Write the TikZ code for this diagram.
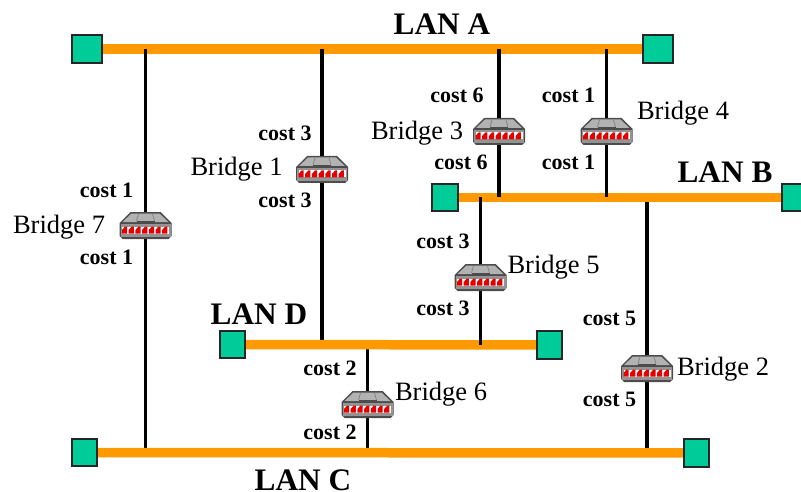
\documentclass[tikz,border=0pt]{standalone}
\usepackage{fontspec}
\setmainfont{Liberation Serif}
\usetikzlibrary{positioning,calc}

\definecolor{lanorange}{RGB}{255,153,0}
\definecolor{langreen}{RGB}{0,204,153}

\begin{document}
\begin{tikzpicture}[
  x=1pt, y=-1pt,
  endpt/.style={draw=black!85, line width=1.6pt, fill=langreen, minimum width=25.5pt, minimum height=27.5pt, inner sep=0pt},
  endptw/.style={endpt, minimum width=29.5pt},
  lan/.style={draw=lanorange, line width=9.5pt},
  link/.style={draw=black, line width=3.8pt},
  bridge/.style={minimum width=53pt, minimum height=27pt, inner sep=0pt},
  lanlbl/.style={font=\fontsize{31.3}{32}\selectfont\bfseries, inner sep=0pt},
  brlbl/.style={font=\fontsize{26.5}{28}\selectfont, inner sep=0pt},
  costlbl/.style={font=\fontsize{22}{24}\selectfont\bfseries, inner sep=0pt},
  router/.pic={
    \fill[black!70] (-15,-14) -- (15,-14) -- (26,-3) -- (26,10) -- (23,13) -- (-23,13) -- (-26,10) -- (-26,-3) -- cycle;
    \fill[black!30] (-14,-12.5) -- (14,-12.5) -- (23,-4) -- (-23,-4) -- cycle;
    \draw[black!50, line width=0.7pt] (-7,-12) -- (-9,-5) (7,-12) -- (9,-5);
    \fill[black!70] (-9,-5) rectangle (9,-3);
    \fill[black!42] (-25,-2) rectangle (25,11);
    \fill[white] (-23.5,0.5) rectangle (23.5,7.5);
    \foreach \i in {0,...,6}
      \fill[red!90!black] ({-23.5+6.7*\i},7.5) -- ({-23.5+6.7*\i},4) -- ({-23.5+6.7*\i+3},0.5) -- ({-23.5+6.7*\i+5.2},0.5) -- ({-23.5+6.7*\i+5.2},7.5) -- cycle;
  },
]
\useasboundingbox (0,0) rectangle (801,492);

%% ---------- bridges ----------
\node[bridge] (br1) at (322,170) {};
\node[bridge] (br2) at (647,369) {};
\node[bridge] (br3) at (499,132) {};
\node[bridge] (br4) at (606.5,132) {};
\node[bridge] (br5) at (480.5,278) {};
\node[bridge] (br6) at (367.5,405) {};
\node[bridge] (br7) at (145.5,226) {};

%% ---------- LANs ----------
\node[endptw] (a1) at (87,49) {};
\node[endptw] (a2) at (658,49) {};
\node[endpt] (b1) at (445,197.5) {};
\node[endpt] (b2) at (795,197.5) {};
\node[endpt] (d1) at (232.5,344.5) {};
\node[endpt] (d2) at (549.5,345) {};
\node[endpt] (c1) at (84.5,452.5) {};
\node[endpt] (c2) at (696.5,453) {};

\draw[lan] (a1) -- (a2);
\draw[link] (b1 -| br2) -- (c1 -| br2);
\draw[lan] (b1) -- (b2);

%% ---------- links ----------
\draw[link] (a1 -| br7) -- (c1 -| br7);
\draw[link] (a1 -| br1) -- (d1 -| br1);
\draw[link] (a1 -| br3) -- (b1 -| br3);
\draw[link] (a1 -| br4) -- (b1 -| br4);
\draw[link] (d1 -| br6) -- (c1 -| br6);

\draw[lan] (d1) -- (d2);
\draw[lan] (c1) -- (c2);
\draw[link] (b1 -| br5) -- (d1 -| br5);

\pic at (br1) {router};
\pic at (br2) {router};
\pic at (br3) {router};
\pic at (br4) {router};
\pic at (br5) {router};
\pic at (br6) {router};
\pic at (br7) {router};

%% ---------- labels ----------
\node[lanlbl] (lana) at (442,24) {LAN A};
\node[lanlbl] (lanb) at (725,172) {LAN B};
\node[lanlbl] (lanc) at (303,480) {LAN C};
\node[lanlbl] (land) at (259,314) {LAN D};

\node[brlbl] (nm1) at (236.5,169) {Bridge 1};
\node[brlbl] (nm2) at (723,369) {Bridge 2};
\node[brlbl] (nm3) at (417,133) {Bridge 3};
\node[brlbl] (nm4) at (683,113) {Bridge 4};
\node[brlbl] (nm5) at (553.5,267) {Bridge 5};
\node[brlbl] (nm6) at (441,394) {Bridge 6};
\node[brlbl] (nm7) at (59,227) {Bridge 7};

\node[costlbl] at (285,133) {cost 3};
\node[costlbl] at (285,200) {cost 3};
\node[costlbl] at (609.5,318) {cost 5};
\node[costlbl] at (609.5,399) {cost 5};
\node[costlbl] at (457,95) {cost 6};
\node[costlbl] at (461,162) {cost 6};
\node[costlbl] at (568.5,95) {cost 1};
\node[costlbl] at (568.5,162) {cost 1};
\node[costlbl] at (443,241) {cost 3};
\node[costlbl] at (443,308) {cost 3};
\node[costlbl] at (330,368) {cost 2};
\node[costlbl] at (330,432) {cost 2};
\node[costlbl] at (106.5,190) {cost 1};
\node[costlbl] at (106.5,257) {cost 1};

\end{tikzpicture}
\end{document}
